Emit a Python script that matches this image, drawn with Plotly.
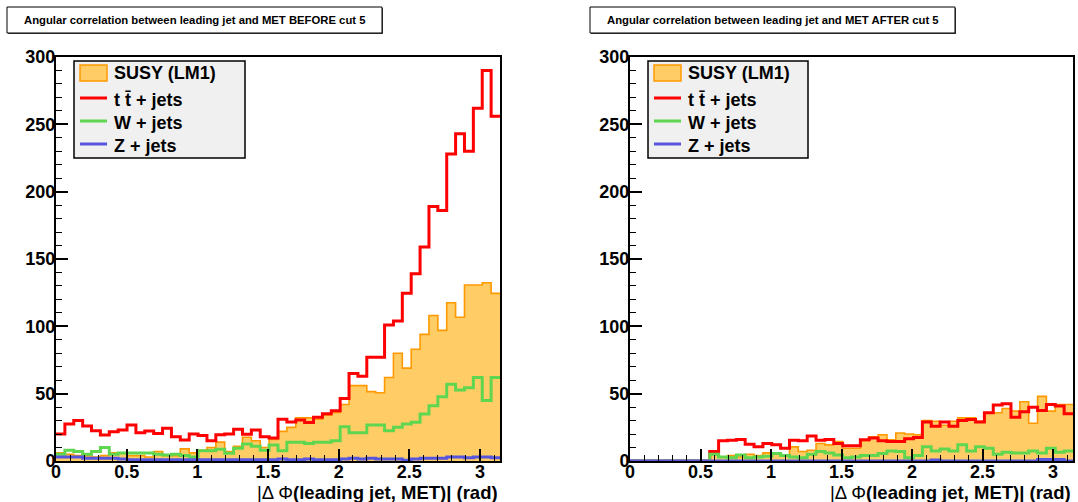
import numpy as np
import plotly.graph_objects as go

# ---------------------------------------------------------------- data
N_BINS = 50
PHI_MAX = np.pi

# BEFORE cut 5 (events per bin)
before_susy = [6, 5, 4, 4, 3, 4, 6, 6, 4, 4, 3, 7, 4, 4, 9, 6, 8, 10, 14, 7,
               11, 17.6, 15, 10, 16, 22, 25, 32, 32, 31, 34, 36, 42, 56, 56, 51.5, 50.7, 62, 80, 69,
               83, 94, 108, 97, 117.5, 106.7, 130.7, 130.7, 132.4, 124.5]
before_ttbar = [20, 27.5, 30, 26, 22.5, 19.3, 21.8, 23, 26.7, 21, 22.3, 20.5, 24.3, 18, 15.6, 20, 19, 15, 19.5, 20,
                23.5, 19.8, 23, 18, 17, 31, 29, 30.4, 28.5, 32.4, 35, 37.3, 46.5, 65, 63, 77, 77, 101, 104, 124.5,
                139, 159, 189, 186, 228, 243, 230, 262, 290, 256]
before_wjets = [5, 8, 7, 5, 7, 10, 5, 6, 6, 6, 6, 5, 4.5, 5, 4, 3, 7.7, 7.7, 8.7, 5.7,
                9.4, 12.6, 11, 8, 11.9, 7.7, 14, 14, 13, 14, 14, 15, 25.5, 21, 21, 26.7, 26.7, 22.5, 25, 27.5,
                28.7, 34.9, 41, 47.7, 57, 52.7, 54.4, 62, 45, 62]
before_zjets = [3, 3, 3, 2, 2, 2, 2, 1.5, 1, 1, 1, 1, 1, 1, 1, 1, 1, 1, 1, 1,
                1, 1, 1, 1, 1, 1.5, 1, 1, 1.5, 1, 1, 1, 1.5, 2, 1.5, 2, 1.5, 1.5, 1.5, 0.5,
                1.5, 2, 2, 2, 3, 3, 2.5, 3, 3, 2.5]

# AFTER cut 5 (events per bin)
after_susy = [0, 0, 0, 0, 0, 0, 0, 0, 0, 5, 3, 4, 3, 5, 4, 6, 5, 4, 10.5, 7,
              8, 13, 12, 14.5, 9.5, 9.5, 15, 18, 19.5, 15.8, 20.8, 20, 19.5, 30, 29.5, 26.5, 29.5, 32, 32, 29.5,
              35.8, 35.8, 39, 37, 44, 28, 48, 37, 42, 42]
after_ttbar = [0, 0, 0, 0, 0, 0, 0, 0, 0, 7, 15, 15.5, 16, 12.5, 10.5, 13, 12, 9.5, 15.5, 15,
               18.6, 15.5, 16, 13, 11.3, 11.3, 15.8, 17, 15, 14.5, 14.5, 16.5, 17.5, 29, 25.8, 29, 25.8, 30, 30.8, 29,
               35.8, 41.5, 42.5, 32.5, 36.5, 40, 37.5, 42, 40.8, 35]
after_wjets = [0, 0, 0, 0, 0, 0, 0, 0, 0, 5, 3, 2.5, 4.5, 2.5, 3, 3.5, 5.5, 4, 3, 2.5,
               5, 7, 6, 4.5, 2.5, 3, 4, 4, 5.5, 7.5, 7, 2.5, 4, 10.5, 7.5, 9, 7.5, 12, 7.5, 10.5,
               9.5, 5, 6.5, 6, 6, 7.5, 6, 9.5, 6.5, 7.5]
after_zjets = [0, 0, 0, 0, 0, 0, 0, 0, 0, 0, 0, 0, 0, 0, 0, 0, 0, 0, 0, 0,
               0, 0, 0, 0, 0, 0, 0, 0, 0, 0, 0, 0, 0, 0, 0.7, 0, 0, 0, 0, 0,
               0, 0, 0, 0, 0, 0, 1.2, 1.2, 1.2, 0]

titles = ["Angular correlation between leading jet and MET BEFORE cut 5",
          "Angular correlation between leading jet and MET AFTER cut 5"]
legend_labels = ["SUSY (LM1)", "t t\u0304 + jets", "W + jets", "Z + jets"]
x_title = "|\u0394 \u03a6<b>(leading jet, MET)| (rad)</b>"

# ---------------------------------------------------------------- style
W, H = 1078, 502
FONT = "Liberation Sans, Arial, Helvetica, sans-serif"
SUSY_FILL, SUSY_LINE = "#ffcc66", "#ff9900"
TT_COLOR, W_COLOR, Z_COLOR = "#ff0000", "#5fd650", "#5555dd"

# plot frames in pixels: (left, top, right, bottom)
FRAMES = [(56, 57, 500, 461), (630, 57, 1073, 461)]
TITLE_BOXES = [(7, 7, 382, 33), (590, 7, 955, 33)]
LEGEND_BOXES = [(74, 61, 245, 158), (648, 61, 808, 158)]


def px(x):
    return x / W


def py(y):
    return 1 - y / H


edges = np.linspace(0.0, PHI_MAX, N_BINS + 1)


def steps(values):
    """Histogram outline points for a horizontal-then-vertical step line."""
    v = np.asarray(values, dtype=float)
    return edges, np.append(v, v[-1])


fig = go.Figure()

panels = [
    (before_susy, before_ttbar, before_wjets, before_zjets),
    (after_susy, after_ttbar, after_wjets, after_zjets),
]

for i, (susy, tt, wj, zj) in enumerate(panels):
    xa = "x" if i == 0 else "x2"
    ya = "y" if i == 0 else "y2"
    sx, sy = steps(susy)
    fig.add_trace(go.Scatter(x=sx, y=sy, mode="lines", line_shape="hv",
                             line=dict(color=SUSY_LINE, width=1.6),
                             fill="tozeroy", fillcolor=SUSY_FILL,
                             xaxis=xa, yaxis=ya, showlegend=False, hoverinfo="skip"))
    for vals, col in ((tt, TT_COLOR), (wj, W_COLOR), (zj, Z_COLOR)):
        lx, ly = steps(vals)
        fig.add_trace(go.Scatter(x=lx, y=ly, mode="lines", line_shape="hv",
                                 line=dict(color=col, width=3),
                                 xaxis=xa, yaxis=ya, showlegend=False, hoverinfo="skip"))

tickfont = dict(family=FONT, size=18, color="black", weight="bold")
axis_common = dict(showline=True, linecolor="black", linewidth=2, mirror=True,
                   showgrid=False, zeroline=False, ticks="inside", tickcolor="black",
                   tickwidth=1.5, ticklen=12, tickfont=tickfont, automargin=False)

layout_axes = {}
for i, (l, t, r, b) in enumerate(FRAMES):
    sfx = "" if i == 0 else str(i + 1)
    layout_axes["xaxis" + sfx] = dict(
        axis_common, domain=[px(l), px(r)], range=[0, PHI_MAX],
        anchor="y" + sfx, tick0=0, dtick=0.5, ticklabelstandoff=-7,
        minor=dict(ticks="inside", dtick=0.1, ticklen=6, tickwidth=1, tickcolor="black"))
    layout_axes["yaxis" + sfx] = dict(
        axis_common, domain=[py(b), py(t)], range=[0, 300],
        anchor="x" + sfx, tick0=0, dtick=50, ticklabelstandoff=-5,
        minor=dict(ticks="inside", dtick=10, ticklen=6, tickwidth=1, tickcolor="black"))

shapes = []
annotations = []

# title boxes with a thin drop shadow
for (l, t, r, b), text in zip(TITLE_BOXES, titles):
    shapes.append(dict(type="rect", xref="paper", yref="paper",
                       x0=px(l + 1), x1=px(r + 1), y0=py(b + 1), y1=py(t + 1),
                       line=dict(width=0), fillcolor="#444444", layer="above"))
    shapes.append(dict(type="rect", xref="paper", yref="paper",
                       x0=px(l), x1=px(r), y0=py(b), y1=py(t),
                       line=dict(color="black", width=1), fillcolor="white", layer="above"))
    annotations.append(dict(xref="paper", yref="paper", x=px((l + r) / 2), y=py((t + b) / 2),
                            text=text, showarrow=False, xanchor="center", yanchor="middle",
                            font=dict(family=FONT, size=11.3, color="black", weight="bold")))

# legends
legend_font = dict(family=FONT, size=18, color="black", weight="bold")
entry_rows = [73, 100, 123, 146]
for (l, t, r, b) in LEGEND_BOXES:
    shapes.append(dict(type="rect", xref="paper", yref="paper",
                       x0=px(l), x1=px(r), y0=py(b), y1=py(t),
                       line=dict(color="black", width=1.5), fillcolor="#f0f0f0", layer="above"))
    key_l, key_r = l + 6, l + 33
    # SUSY key: filled box
    shapes.append(dict(type="rect", xref="paper", yref="paper",
                       x0=px(key_l), x1=px(key_r), y0=py(entry_rows[0] + 8), y1=py(entry_rows[0] - 8),
                       line=dict(color=SUSY_LINE, width=1.5), fillcolor=SUSY_FILL, layer="above"))
    for row, col in zip(entry_rows[1:], (TT_COLOR, W_COLOR, Z_COLOR)):
        shapes.append(dict(type="line", xref="paper", yref="paper",
                           x0=px(key_l), x1=px(key_r), y0=py(row - 2), y1=py(row - 2),
                           line=dict(color=col, width=3), layer="above"))
    for row, label in zip(entry_rows, legend_labels):
        annotations.append(dict(xref="paper", yref="paper", x=px(l + 38), y=py(row),
                                text=label, showarrow=False, xanchor="left", yanchor="middle",
                                font=legend_font))

# x-axis titles, right aligned at the end of each axis
for (l, t, r, b) in FRAMES:
    annotations.append(dict(xref="paper", yref="paper", x=px(r), y=py(492),
                            text=x_title, showarrow=False, xanchor="right", yanchor="middle",
                            font=dict(family=FONT, size=18.5, color="black")))

fig.update_layout(
    width=W, height=H,
    margin=dict(l=0, r=0, t=0, b=0, autoexpand=False),
    paper_bgcolor="white", plot_bgcolor="white",
    shapes=shapes, annotations=annotations,
    showlegend=False,
    **layout_axes,
)

fig.write_html("out.html")
